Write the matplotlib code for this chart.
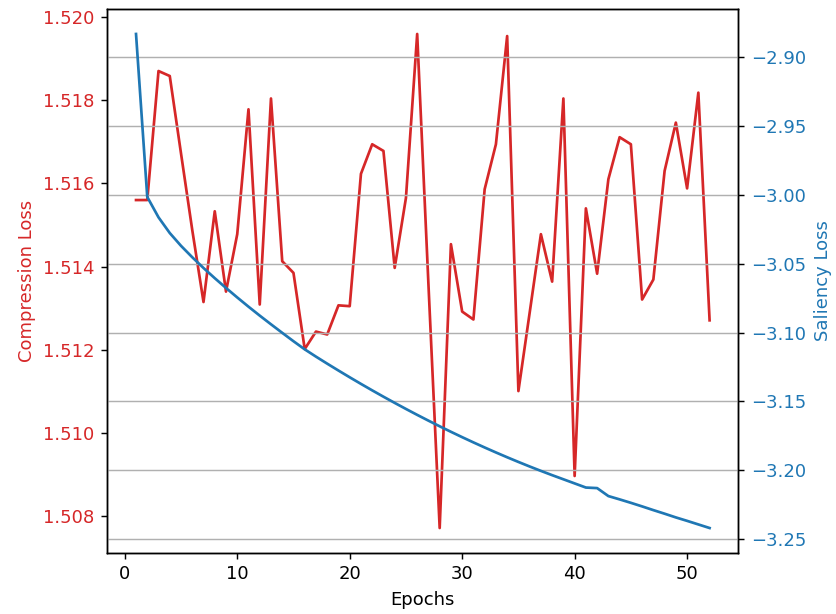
import matplotlib
matplotlib.use("Agg")
import matplotlib.pyplot as plt

# Training history per epoch
epochs = list(range(1, 53))

compression_loss = [
    1.51560, 1.51560, 1.51870, 1.51858, 1.51672, 1.51488, 1.51315, 1.51533,
    1.51340, 1.51478, 1.51778, 1.51309, 1.51804, 1.51413, 1.51385, 1.51202,
    1.51244, 1.51237, 1.51307, 1.51305, 1.51623, 1.51694, 1.51678, 1.51397,
    1.51565, 1.51959, 1.51358, 1.50772, 1.51454, 1.51292, 1.51273, 1.51586,
    1.51694, 1.51954, 1.51101, 1.51289, 1.51478, 1.51364, 1.51804, 1.50897,
    1.51540, 1.51383, 1.51610, 1.51711, 1.51694, 1.51321, 1.51369, 1.51630,
    1.51746, 1.51588, 1.51818, 1.51271,
]

saliency_loss = [
    -2.8831, -3.0015, -3.0163, -3.0277, -3.0370, -3.0453, -3.0531, -3.0605,
    -3.0676, -3.0745, -3.0812, -3.0877, -3.0940, -3.1002, -3.1063, -3.1122,
    -3.1175, -3.1226, -3.1276, -3.1325, -3.1373, -3.1420, -3.1466, -3.1511,
    -3.1555, -3.1598, -3.1640, -3.1681, -3.1721, -3.1760, -3.1798, -3.1835,
    -3.1871, -3.1906, -3.1940, -3.1973, -3.2005, -3.2036, -3.2066, -3.2096,
    -3.2126, -3.2130, -3.2188, -3.2212, -3.2237, -3.2263, -3.2290, -3.2316,
    -3.2343, -3.2368, -3.2394, -3.2420,
]

# Scale the default style up a little for the output size
s = 1.3
plt.rcParams.update({
    "font.size": 10 * s,
    "lines.linewidth": 1.5 * s,
    "axes.linewidth": 0.8 * s,
    "axes.labelpad": 4.0 * s,
    "grid.linewidth": 0.8 * s,
    "xtick.major.size": 3.5 * s,
    "ytick.major.size": 3.5 * s,
    "xtick.major.width": 0.8 * s,
    "ytick.major.width": 0.8 * s,
    "xtick.major.pad": 3.5 * s,
    "ytick.major.pad": 3.5 * s,
})

fig, ax1 = plt.subplots(figsize=(8.36, 6.14), dpi=100)
fig.subplots_adjust(left=0.1284, right=0.8831, top=0.9849, bottom=0.0998)

color1 = "tab:red"
ax1.set_xlabel("Epochs")
ax1.set_ylabel("Compression Loss", color=color1)
ax1.plot(epochs, compression_loss, color=color1)
ax1.tick_params(axis="y", labelcolor=color1)

ax2 = ax1.twinx()
color2 = "tab:blue"
ax2.set_ylabel("Saliency Loss", color=color2)
ax2.plot(epochs, saliency_loss, color=color2)
ax2.tick_params(axis="y", labelcolor=color2)
ax2.grid(axis="y")

fig.savefig("out.png", dpi=100)
